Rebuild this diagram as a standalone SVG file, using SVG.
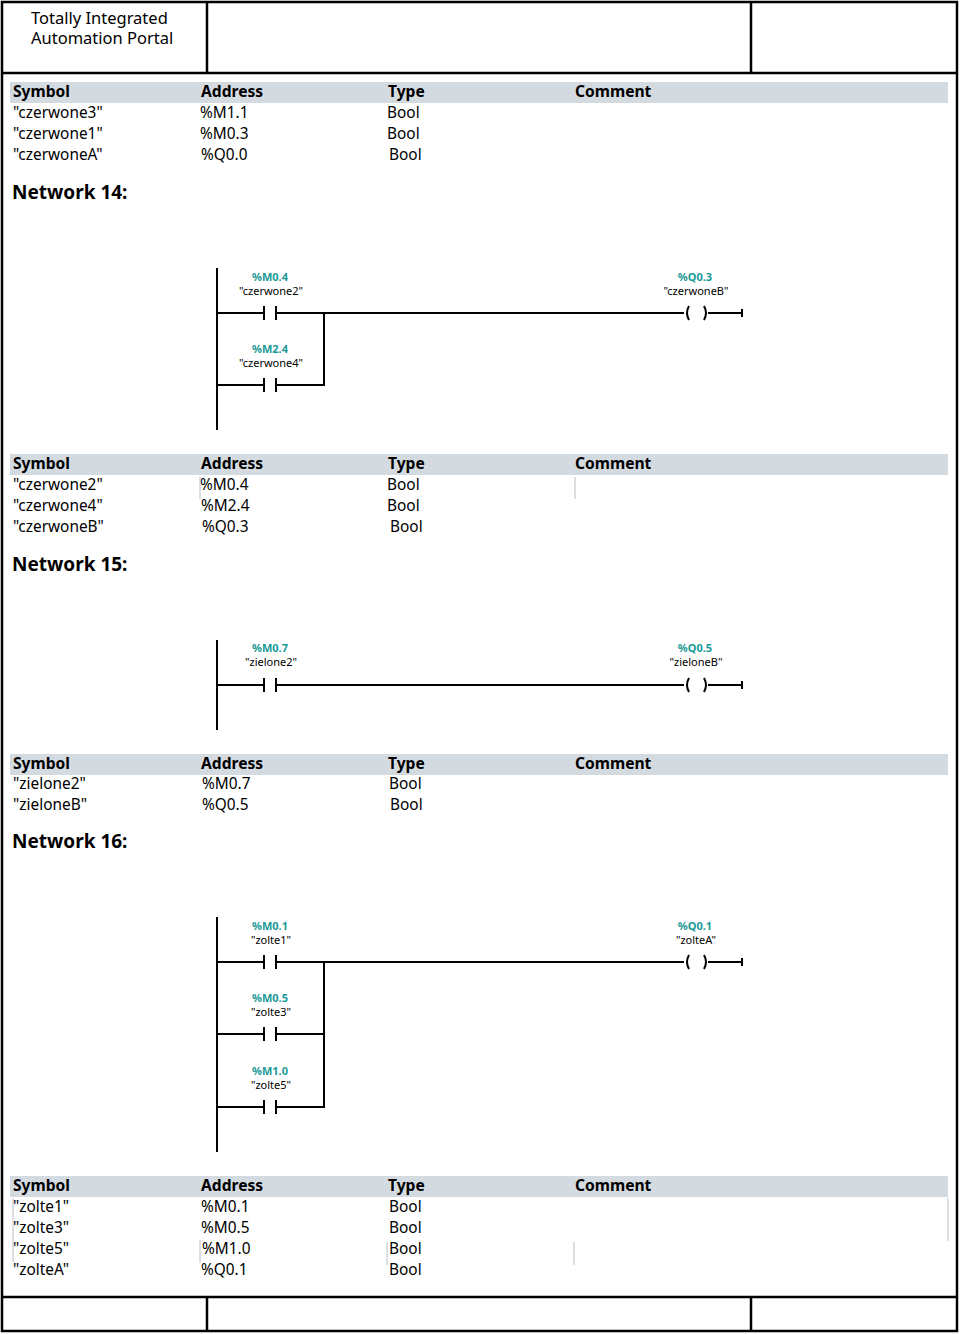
<svg xmlns="http://www.w3.org/2000/svg" width="960" height="1334" viewBox="0 0 960 1334">
<style>
text{font-family:"Noto Sans","Open Sans",sans-serif;fill:#000}
.t{font-size:15.4px}
.h{font-size:15.6px;font-weight:bold}
.n{font-size:19px;font-weight:bold}
.a{font-size:11px;font-weight:bold;fill:#1a9a96;text-anchor:middle}
.s{font-size:11px;text-anchor:middle}
.band{fill:#d4dbe0}
.fr{stroke:#000;stroke-width:2.5;fill:none}
.w{stroke:#000;stroke-width:2;fill:none}
.g{stroke:#b8c0c8;stroke-width:1}
</style>
<rect width="960" height="1334" fill="#fff"/>
<g id="frame">
<rect class="fr" x="2" y="2" width="955" height="1329"/>
<line class="fr" x1="2" y1="73" x2="957" y2="73"/>
<line class="fr" x1="207" y1="2" x2="207" y2="73"/>
<line class="fr" x1="751" y1="2" x2="751" y2="73"/>
<line class="fr" x1="2" y1="1297" x2="957" y2="1297"/>
<line class="fr" x1="207" y1="1297" x2="207" y2="1331"/>
<line class="fr" x1="751" y1="1297" x2="751" y2="1331"/>
<text x="31" y="24" style="font-size:16.5px">Totally Integrated</text>
<text x="31" y="44" style="font-size:16.5px">Automation Portal</text>
</g>
<g id="table1">
<rect class="band" x="10" y="82" width="938" height="21"/>
<text class="h" x="13" y="97">Symbol</text><text class="h" x="201" y="97">Address</text><text class="h" x="388" y="97">Type</text><text class="h" x="575" y="97">Comment</text>
<text class="t" x="13" y="118">"czerwone3"</text><text class="t" x="200" y="118">%M1.1</text><text class="t" x="387" y="118">Bool</text>
<text class="t" x="13" y="139">"czerwone1"</text><text class="t" x="200" y="139">%M0.3</text><text class="t" x="387" y="139">Bool</text>
<text class="t" x="13" y="160">"czerwoneA"</text><text class="t" x="201" y="160">%Q0.0</text><text class="t" x="389" y="160">Bool</text>
<text class="n" x="12" y="199">Network 14:</text>
</g>
<g id="net14">
<line class="w" x1="217" y1="268" x2="217" y2="430"/>
<path class="w" d="M217 313H263M264 306V320M276 306V320M277 313H684M742 313H708M742 309V317"/>
<path class="w" d="M689 306Q685 313 689 320M704 306Q708 313 704 320"/>
<path class="w" d="M217 385H263M264 378V392M276 378V392M277 385H324V313"/>
<text class="a" x="270" y="281">%M0.4</text><text class="s" x="271" y="295">"czerwone2"</text>
<text class="a" x="270" y="353">%M2.4</text><text class="s" x="271" y="367">"czerwone4"</text>
<text class="a" x="695" y="281">%Q0.3</text><text class="s" x="696" y="295">"czerwoneB"</text>
</g>
<g id="table2">
<rect class="band" x="10" y="454" width="938" height="21"/>
<text class="h" x="13" y="469">Symbol</text><text class="h" x="201" y="469">Address</text><text class="h" x="388" y="469">Type</text><text class="h" x="575" y="469">Comment</text>
<text class="t" x="13" y="490">"czerwone2"</text><text class="t" x="200" y="490">%M0.4</text><text class="t" x="387" y="490">Bool</text>
<text class="t" x="13" y="511">"czerwone4"</text><text class="t" x="201" y="511">%M2.4</text><text class="t" x="387" y="511">Bool</text>
<text class="t" x="13" y="532">"czerwoneB"</text><text class="t" x="202" y="532">%Q0.3</text><text class="t" x="390" y="532">Bool</text>
<line class="g" x1="575" y1="477" x2="575" y2="499"/>
<line class="g" x1="200" y1="477" x2="200" y2="499"/>
<text class="n" x="12" y="571">Network 15:</text>
</g>
<g id="net15">
<line class="w" x1="217" y1="640" x2="217" y2="730"/>
<path class="w" d="M217 685H263M264 678V692M276 678V692M277 685H684M742 685H708M742 681V689"/>
<path class="w" d="M689 678Q685 685 689 692M704 678Q708 685 704 692"/>
<text class="a" x="270" y="652">%M0.7</text><text class="s" x="271" y="666">"zielone2"</text>
<text class="a" x="695" y="652">%Q0.5</text><text class="s" x="696" y="666">"zieloneB"</text>
</g>
<g id="table3">
<rect class="band" x="10" y="754" width="938" height="21"/>
<text class="h" x="13" y="769">Symbol</text><text class="h" x="201" y="769">Address</text><text class="h" x="388" y="769">Type</text><text class="h" x="575" y="769">Comment</text>
<text class="t" x="13" y="789">"zielone2"</text><text class="t" x="202" y="789">%M0.7</text><text class="t" x="389" y="789">Bool</text>
<text class="t" x="13" y="810">"zieloneB"</text><text class="t" x="202" y="810">%Q0.5</text><text class="t" x="390" y="810">Bool</text>
<text class="n" x="12" y="848">Network 16:</text>
</g>
<g id="net16">
<line class="w" x1="217" y1="917" x2="217" y2="1152"/>
<path class="w" d="M217 962H263M264 955V969M276 955V969M277 962H684M742 962H708M742 958V966"/>
<path class="w" d="M689 955Q685 962 689 969M704 955Q708 962 704 969"/>
<path class="w" d="M217 1034H263M264 1027V1041M276 1027V1041M277 1034H324"/>
<path class="w" d="M217 1107H263M264 1100V1114M276 1100V1114M277 1107H324V962"/>
<text class="a" x="270" y="930">%M0.1</text><text class="s" x="271" y="944">"zolte1"</text>
<text class="a" x="270" y="1002">%M0.5</text><text class="s" x="271" y="1016">"zolte3"</text>
<text class="a" x="270" y="1075">%M1.0</text><text class="s" x="271" y="1089">"zolte5"</text>
<text class="a" x="695" y="930">%Q0.1</text><text class="s" x="696" y="944">"zolteA"</text>
</g>
<g id="table4">
<rect class="band" x="10" y="1176" width="938" height="21"/>
<text class="h" x="13" y="1191">Symbol</text><text class="h" x="201" y="1191">Address</text><text class="h" x="388" y="1191">Type</text><text class="h" x="575" y="1191">Comment</text>
<text class="t" x="13" y="1212">"zolte1"</text><text class="t" x="201" y="1212">%M0.1</text><text class="t" x="389" y="1212">Bool</text>
<text class="t" x="13" y="1233">"zolte3"</text><text class="t" x="201" y="1233">%M0.5</text><text class="t" x="389" y="1233">Bool</text>
<text class="t" x="13" y="1254">"zolte5"</text><text class="t" x="202" y="1254">%M1.0</text><text class="t" x="389" y="1254">Bool</text>
<text class="t" x="13" y="1275">"zolteA"</text><text class="t" x="201" y="1275">%Q0.1</text><text class="t" x="389" y="1275">Bool</text>
<line class="g" x1="948" y1="1198" x2="948" y2="1241"/>
<line class="g" x1="13" y1="1198" x2="13" y2="1262"/>
<line class="g" x1="200" y1="1240" x2="200" y2="1263"/>
<line class="g" x1="387" y1="1242" x2="387" y2="1265"/>
<line class="g" x1="574" y1="1242" x2="574" y2="1265"/>
</g>
</svg>
